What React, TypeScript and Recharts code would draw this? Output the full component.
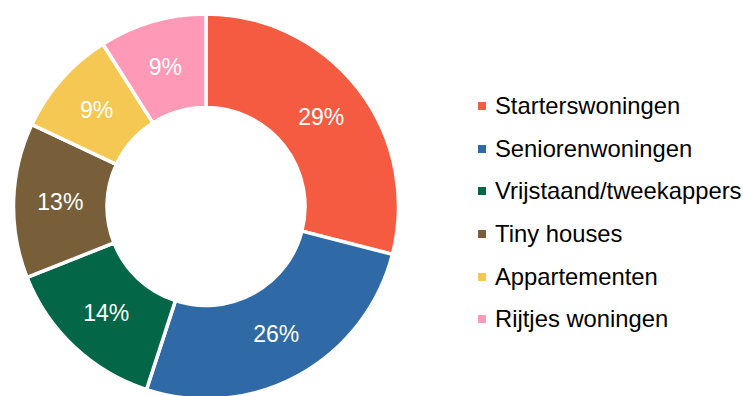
import { Cell, Pie, PieChart } from "recharts";

const categories = [
  "Starterswoningen",
  "Seniorenwoningen",
  "Vrijstaand/tweekappers",
  "Tiny houses",
  "Appartementen",
  "Rijtjes woningen",
];
const shares = [29, 26, 14, 13, 9, 9];
const colors = ["#F55B40", "#2F6AA7", "#026647", "#785F3A", "#F5C853", "#FF99B8"];

const data = categories.map((name, i) => ({ name, value: shares[i] }));

const RAD = Math.PI / 180;
const FONT = '"Liberation Sans", Arial, sans-serif';

function renderLabel(props: any) {
  const { cx, cy, midAngle, innerRadius, outerRadius, value } = props;
  const r = (innerRadius + outerRadius) / 2;
  const x = cx + r * Math.cos(-midAngle * RAD);
  const y = cy + r * Math.sin(-midAngle * RAD);
  return (
    <text
      x={x}
      y={y}
      fill="#fff"
      fontSize={23}
      fontFamily={FONT}
      textAnchor="middle"
      dominantBaseline="central"
    >
      {`${value}%`}
    </text>
  );
}

// legend sits to the right of the donut, one row per category
function LegendList() {
  return (
    <div
      style={{
        position: "absolute",
        left: 478,
        top: 85,
        fontFamily: FONT,
        fontSize: 23.8,
        color: "#000",
      }}
    >
      {categories.map((name, i) => (
        <div
          key={name}
          style={{ display: "flex", alignItems: "center", height: 42.6, whiteSpace: "nowrap" }}
        >
          <span
            style={{
              display: "inline-block",
              width: 8,
              height: 8,
              background: colors[i],
              marginRight: 9,
            }}
          />
          {name}
        </div>
      ))}
    </div>
  );
}

export default function App() {
  return (
    <div
      style={{ position: "absolute", left: 0, top: 0, width: 743, height: 396, background: "#fff" }}
    >
      <PieChart width={743} height={396} margin={{ top: 0, right: 0, bottom: 0, left: 0 }}>
        <Pie
          data={data}
          dataKey="value"
          nameKey="name"
          cx={206}
          cy={206.5}
          innerRadius={99}
          outerRadius={192.5}
          startAngle={90}
          endAngle={-270}
          stroke="#fff"
          strokeWidth={3.5}
          label={renderLabel}
          labelLine={false}
          isAnimationActive={false}
        >
          {data.map((d, i) => (
            <Cell key={d.name} fill={colors[i]} />
          ))}
        </Pie>
      </PieChart>
      <LegendList />
    </div>
  );
}
